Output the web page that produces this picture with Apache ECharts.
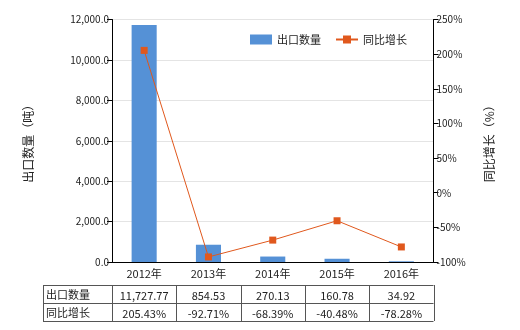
<!DOCTYPE html>
<html><head><meta charset="utf-8">
<script src="https://cdn.jsdelivr.net/npm/echarts@6/dist/echarts.min.js"></script>
<style>html,body{margin:0;padding:0;background:#fff}#c{width:520px;height:330px}</style>
</head><body><div id="c"></div>
<script>
var categories = ['2012年','2013年','2014年','2015年','2016年'];
var exportQty = [11727.77, 854.53, 270.13, 160.78, 34.92];
var yoyGrowth = [205.43, -92.71, -68.39, -40.48, -78.28];
var exportQtyLabels = ['11,727.77','854.53','270.13','160.78','34.92'];
var yoyLabels = ['205.43%','-92.71%','-68.39%','-40.48%','-78.28%'];
var seriesNames = ['出口数量','同比增长'];

var FONT = '"Noto Sans CJK SC", sans-serif';
var TXT = '#222';
var chart = echarts.init(document.getElementById('c'), null, {renderer:'canvas'});
function fmtK(v){ return v.toLocaleString('en-US',{minimumFractionDigits:1,maximumFractionDigits:1}); }
var option = {
  animation:false,
  textStyle:{fontFamily:FONT},
  grid:{left:112,right:86.5,top:19.5,bottom:68},
  legend:{
    top:29, left:245, itemGap:14, itemWidth:22, itemHeight:10,
    textStyle:{fontFamily:FONT,fontSize:11,color:TXT},
    data:[{name:seriesNames[0],icon:'rect'},{name:seriesNames[1]}]
  },
  xAxis:{type:'category',data:categories,
    axisLine:{lineStyle:{color:'#000',width:1}},
    axisTick:{show:false},
    axisLabel:{fontFamily:FONT,fontSize:11,color:TXT,margin:6}
  },
  yAxis:[{
    type:'value',min:0,max:12000,interval:2000,
    name:'出口数量（吨）',nameLocation:'middle',nameGap:78,
    nameTextStyle:{fontFamily:FONT,fontSize:12,color:TXT},
    axisLine:{show:true,lineStyle:{color:'#000'}},
    axisTick:{show:true,length:5,lineStyle:{color:'#000'}},
    axisLabel:{fontFamily:FONT,fontSize:10,color:TXT,margin:3,formatter:fmtK},
    splitLine:{lineStyle:{color:'#e4e4e4'}}
  },{
    type:'value',min:-100,max:250,interval:50,position:'right',
    name:'同比增长（%）',nameLocation:'middle',nameGap:50,
    nameTextStyle:{fontFamily:FONT,fontSize:12,color:TXT},
    axisLine:{show:true,lineStyle:{color:'#000'}},
    axisTick:{show:true,length:5,lineStyle:{color:'#000'}},
    axisLabel:{fontFamily:FONT,fontSize:10,color:TXT,margin:3,formatter:'{value}%'},
    splitLine:{show:false}
  }],
  series:[{
    name:seriesNames[0],type:'bar',data:exportQty,barWidth:'39%',
    itemStyle:{color:'#5591d6'}
  },{
    name:seriesNames[1],type:'line',yAxisIndex:1,data:yoyGrowth,
    symbol:'rect',symbolSize:7,
    lineStyle:{color:'#e0581d',width:1},
    itemStyle:{color:'#e0581d'}
  }]
};
chart.setOption(option);

// Data table below the chart, aligned to category columns
var g = [];
var tLeft = 43, tTop = 285, rowH = 18;
var x0 = chart.convertToPixel({xAxisIndex:0},0);
var x1 = chart.convertToPixel({xAxisIndex:0},1);
var step = x1 - x0;
var gridLeft = x0 - step/2;
var tRight = gridLeft + step*categories.length;
var rows = [[seriesNames[0]].concat(exportQtyLabels),[seriesNames[1]].concat(yoyLabels)];
var ls = {stroke:'#555',lineWidth:1};
for (var r=0;r<=rows.length;r++){
  var y = Math.round(tTop + r*rowH)+0.5;
  g.push({type:'line',shape:{x1:tLeft,y1:y,x2:tRight,y2:y},style:ls,silent:true});
}
var vx = [tLeft];
for (var k=0;k<=categories.length;k++) vx.push(gridLeft + k*step);
vx.forEach(function(x){ x=Math.round(x)+0.5;
  g.push({type:'line',shape:{x1:x,y1:tTop,x2:x,y2:tTop+rowH*rows.length},style:ls,silent:true});
});
rows.forEach(function(row,ri){
  var cy = tTop + ri*rowH + rowH/2 + 0.5;
  g.push({type:'text',x:tLeft+3,y:cy,style:{text:row[0],fill:TXT,font:'11px '+FONT,textAlign:'left',textVerticalAlign:'middle'},silent:true});
  for (var c=1;c<row.length;c++){
    var cx = chart.convertToPixel({xAxisIndex:0},c-1);
    g.push({type:'text',x:cx,y:cy+1,style:{text:row[c],fill:TXT,font:'11px '+FONT,textAlign:'center',textVerticalAlign:'middle'},silent:true});
  }
});
chart.setOption({graphic:g});
</script></body></html>
